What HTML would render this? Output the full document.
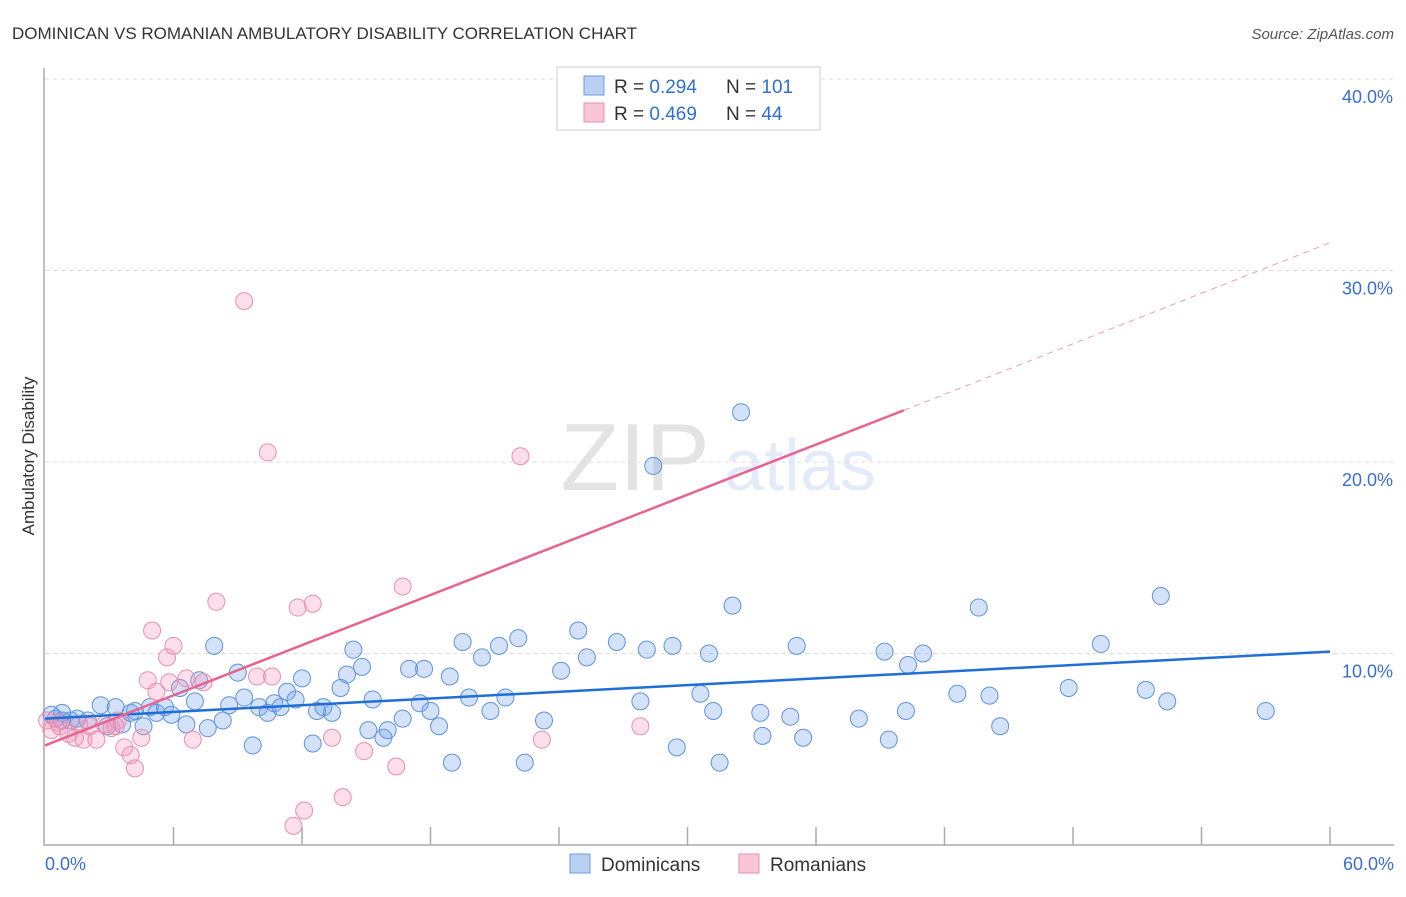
<!DOCTYPE html>
<html><head><meta charset="utf-8"><style>
body{margin:0;background:#fff;font-family:"Liberation Sans",sans-serif}
svg text{font-family:"Liberation Sans",sans-serif}
</style></head><body>
<svg id="chart" width="1406" height="892" xmlns="http://www.w3.org/2000/svg">
<text x="12" y="39" font-size="17" fill="#333">DOMINICAN VS ROMANIAN AMBULATORY DISABILITY CORRELATION CHART</text>
<text x="1394" y="39" font-size="15" fill="#555" text-anchor="end" font-style="italic">Source: ZipAtlas.com</text>
<text transform="translate(34,456) rotate(-90)" font-size="17" fill="#333" text-anchor="middle">Ambulatory Disability</text>
<g opacity="0.13">
<text x="635" y="490" font-size="96" font-family="Liberation Serif" fill="#333" text-anchor="middle">ZIP</text>
<text x="800" y="490" font-size="72" fill="#3a6fd0" text-anchor="middle">atlas</text>
</g>
<g id="grid"></g><g id="axes"></g><g id="pts"></g><g id="lines"></g>
<g>
<rect x="557" y="67" width="263" height="63" fill="#fff" stroke="#ccc"/>
<rect x="584" y="76" width="20" height="19" fill="#b9d0f3" stroke="#6b9be0"/>
<rect x="584" y="103" width="20" height="19" fill="#f8c6d5" stroke="#eb8fae"/>
<text x="614" y="93" font-size="19" fill="#333">R = <tspan fill="#2f6fd6">0.294</tspan></text>
<text x="726" y="93" font-size="19" fill="#333">N = <tspan fill="#2f6fd6">101</tspan></text>
<text x="614" y="120" font-size="19" fill="#333">R = <tspan fill="#2f6fd6">0.469</tspan></text>
<text x="726" y="120" font-size="19" fill="#333">N = <tspan fill="#2f6fd6"> 44</tspan></text>
</g>
<g>
<rect x="570" y="854" width="20" height="19" fill="#b9d0f3" stroke="#6b9be0"/>
<text x="601" y="871" font-size="19" fill="#333">Dominicans</text>
<rect x="739" y="854" width="20" height="19" fill="#f8c6d5" stroke="#eb8fae"/>
<text x="770" y="871" font-size="19" fill="#333">Romanians</text>
</g>
</svg>
<script>
const yTicks=[10,20,30,40];
const yTickLabels=["10.0%","20.0%","30.0%","40.0%"];
const xTickLabels=["0.0%","60.0%"];
const blueX=[0.5,0.8,1.2,1.5,2.0,2.6,2.9,3.3,3.6,4.0,4.2,4.6,4.9,5.2,5.6,5.9,6.3,6.6,7.0,7.2,7.6,7.9,8.3,8.6,9.0,9.3,9.7,10.0,10.4,10.7,11.0,11.3,11.7,12.0,12.5,12.7,13.0,13.4,13.8,14.1,14.4,14.8,15.1,15.3,15.8,16.0,16.7,17.0,17.5,17.7,18.0,18.4,18.9,19.0,19.5,19.8,20.4,20.8,21.2,21.5,22.1,22.4,23.3,24.1,24.9,25.3,26.7,27.8,28.1,29.3,29.5,30.6,31.0,31.2,31.5,32.1,32.5,33.4,33.5,34.8,35.1,35.4,38.0,39.2,39.4,40.2,40.3,41.0,42.6,43.6,44.1,44.6,47.8,49.3,51.4,52.1,52.4,57.0,28.4,0.8,0.3];
const blueY=[6.6,6.5,6.5,6.6,6.5,7.3,6.2,7.2,6.3,6.9,7.0,6.2,7.2,6.9,7.2,6.8,8.2,6.3,7.5,8.6,6.1,10.4,6.5,7.3,9.0,7.7,5.2,7.2,6.9,7.4,7.2,8.0,7.6,8.7,5.3,7.0,7.2,6.9,8.2,8.9,10.2,9.3,6.0,7.6,5.6,6.0,6.6,9.2,7.4,9.2,7.0,6.2,8.8,4.3,10.6,7.7,9.8,7.0,10.4,7.7,10.8,4.3,6.5,9.1,11.2,9.8,10.6,7.5,10.2,10.4,5.1,7.9,10.0,7.0,4.3,12.5,22.6,6.9,5.7,6.7,10.4,5.6,6.6,10.1,5.5,7.0,9.4,10.0,7.9,12.4,7.8,6.2,8.2,10.5,8.1,13.0,7.5,7.0,19.8,6.9,6.8];
const pinkX=[0.1,0.3,0.7,1.1,1.4,1.8,2.1,2.4,2.8,3.1,3.4,3.7,4.0,4.2,4.5,4.8,5.0,5.2,5.7,5.8,6.0,6.6,6.9,7.4,8.0,9.3,9.9,10.4,10.6,11.6,11.8,12.1,12.5,13.4,13.9,14.9,16.4,16.7,22.2,23.2,27.8,3.3,1.6,0.6];
const pinkY=[6.5,6.0,6.2,5.8,5.6,5.5,6.2,5.5,6.3,6.1,6.5,5.1,4.7,4.0,5.6,8.6,11.2,8.0,9.8,8.5,10.4,8.7,5.5,8.5,12.7,28.4,8.8,20.5,8.8,1.0,12.4,1.8,12.6,5.6,2.5,4.9,4.1,13.5,20.3,5.5,6.2,6.2,6.3,6.4];
const blueTrend=[[0,6.6],[60,10.1]];
const pinkTrend=[[0,5.2],[40.1,22.7]];
const pinkTrendExt=[[40.1,22.7],[60,31.45]];
const NS="http://www.w3.org/2000/svg";
const X0=45,X1=1330,Y0=845,PER=19.15;
const sx=v=>X0+(v/60)*(X1-X0), sy=v=>Y0-v*PER;
function mk(tag,attrs,parent){const e=document.createElementNS(NS,tag);for(const k in attrs)e.setAttribute(k,attrs[k]);document.getElementById(parent).appendChild(e);return e;}
yTicks.forEach((t,i)=>{
 const g=mk('line',{x1:45,x2:1394,y1:sy(t),y2:sy(t),stroke:'#ddd','stroke-dasharray':'4,4'},'grid');
 
 
 const l=mk('text',{x:1393,y:sy(t)+24,'font-size':18,fill:'#3a6fd0','text-anchor':'end'},'grid');
 l.textContent=yTickLabels[i];
 
 
});
const ax=mk('path',{d:`M44,68 V${Y0} H1394`,fill:'none',stroke:'#aaa','stroke-width':1.5},'axes');


for(let i=1;i<=10;i++){const x=sx(i*6);const t=mk('line',{x1:x,x2:x,y1:Y0,y2:Y0-18,stroke:'#aaa','stroke-width':1.5},'axes');
 
 }
[[0,'start',45],[1,'end',1394]].forEach(([i,a,x])=>{const t=mk('text',{x:x,y:870,'font-size':18,fill:'#3a6fd0','text-anchor':a},'axes');t.textContent=xTickLabels[i];
 
 });
function pts(xs,ys,fill,stroke,name){xs.forEach((x,i)=>{const c=mk('circle',{cx:sx(x),cy:sy(ys[i]),r:8.5,fill:fill,stroke:stroke,'stroke-width':1},'pts');
 
 });}
pts(blueX,blueY,'rgba(110,160,235,0.3)','#5f93dc','dominican-point');
pts(pinkX,pinkY,'rgba(245,150,185,0.3)','#ea8fae','romanian-point');
function ln(p,col,name,dash){const l=mk('line',{x1:sx(p[0][0]),y1:sy(p[0][1]),x2:sx(p[1][0]),y2:sy(p[1][1]),stroke:col,'stroke-width':dash?1:2.5},'lines');
 if(dash)l.setAttribute('stroke-dasharray','6,5');
 
 }
ln(blueTrend,'#1f6fd6','dominican-trendline');
ln(pinkTrend,'#e8638f','romanian-trendline');
ln(pinkTrendExt,'#e8a0b8','romanian-trendline-extension',true);
</script>
</body></html>
